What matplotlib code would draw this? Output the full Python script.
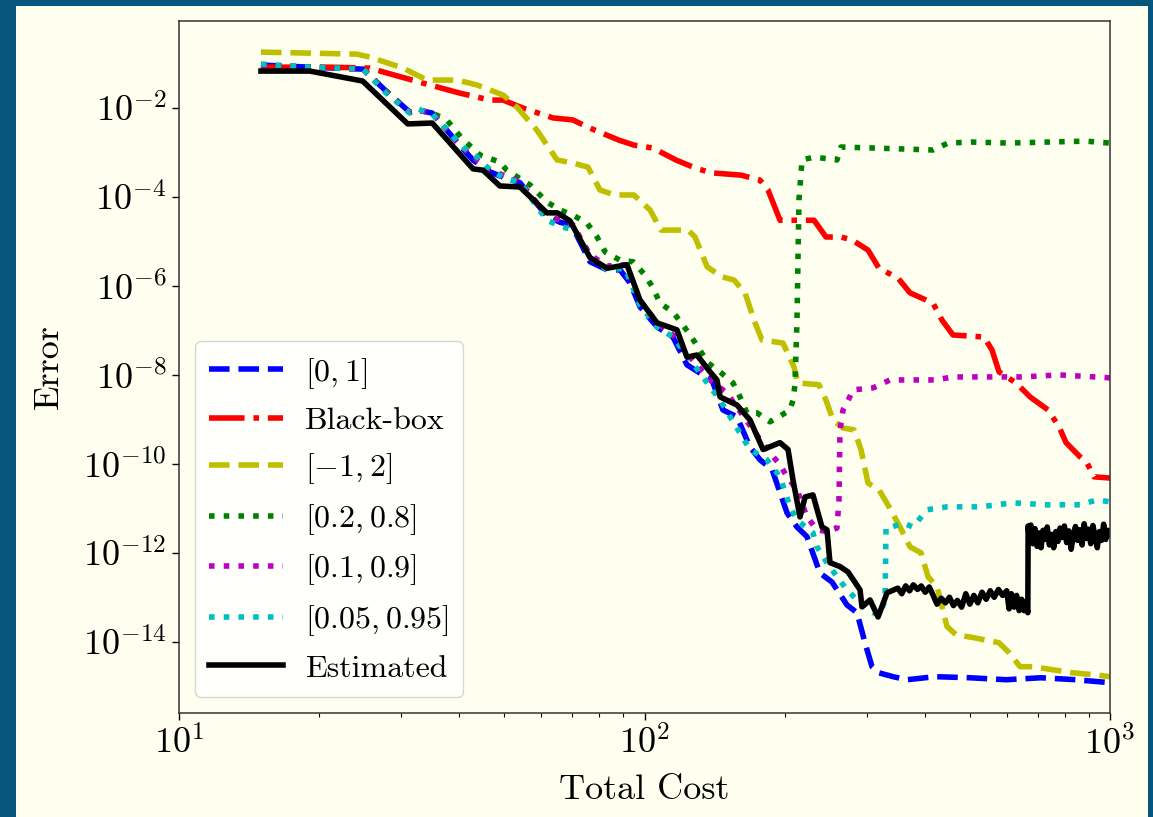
import numpy as np
import matplotlib
matplotlib.use("Agg")
import matplotlib.pyplot as plt
from matplotlib import ticker
from matplotlib.patches import Rectangle

# ---------------- data ----------------
x_unit = [15, 19.1, 24.85, 27.7, 31.3, 32.6, 35.0, 39.2, 42.8, 46.6, 50.1, 54.0, 61.7, 65.9, 69.7,
          76.4, 83.1, 88.6, 93.1, 97.8, 106.4, 115.1, 123.4, 131.6, 139.6, 147.4, 158.0, 168.5,
          177.1, 187.9, 202.4, 212.6, 223.4, 238.2, 252.8, 272.3, 286.1, 297.6, 308.1, 319.0,
          341.8, 366.4, 420.9, 500.4, 598.0, 711.0, 845.3, 1000]
y_unit = [0.0925, 0.083, 0.075, 0.0254, 8.1e-3, 9.0e-3, 7.7e-3, 1.9e-3, 6.8e-4, 3.65e-4, 2.7e-4,
          2.1e-4, 3.7e-5, 2.7e-5, 2.35e-5, 3.5e-6, 2.3e-6, 2.3e-6, 1.17e-6, 3.4e-7, 1.2e-7, 7.1e-8,
          1.68e-8, 1.1e-8, 7.7e-9, 1.63e-9, 1.14e-9, 2.4e-10, 1.23e-10, 7.5e-11, 7.9e-12, 3.8e-12,
          2.3e-12, 3.5e-13, 2.2e-13, 6.7e-14, 4.5e-14, 9.5e-15, 2.75e-15, 2.0e-15, 1.64e-15,
          1.4e-15, 1.64e-15, 1.55e-15, 1.4e-15, 1.55e-15, 1.4e-15, 1.2e-15]

x_bbox = [15, 21.1, 25.7, 28.0, 33.4, 40.1, 46.6, 49.7, 54.8, 63.6, 70.2, 75.6, 88.1, 94.9, 104.3,
          116.8, 128.4, 139.0, 161.2, 177.1, 184.2, 195.5, 214.7, 231.3, 245.4, 264.3, 279.2,
          302.1, 319.0, 350.4, 371.9, 416.7, 435.7, 459.9, 536.4, 558.0, 577.6, 628.3, 673.4,
          736.0, 777.2, 804.6, 862.2, 892.6, 924.0, 1000]
y_bbox = [0.083, 0.083, 0.079, 0.0612, 0.0365, 0.0217, 0.0151, 0.0151, 0.010, 6.0e-3, 5.4e-3,
          3.7e-3, 1.9e-3, 1.47e-3, 1.26e-3, 6.8e-4, 4.5e-4, 3.5e-4, 3.1e-4, 2.4e-4, 1.44e-4,
          3.0e-5, 3.0e-5, 3.0e-5, 1.26e-5, 1.26e-5, 1.08e-5, 6.4e-6, 2.5e-6, 1.5e-6, 7.0e-7,
          4.1e-7, 1.7e-7, 7.9e-8, 7.1e-8, 3.6e-8, 1.17e-8, 6.6e-9, 3.2e-9, 1.63e-9, 6.8e-10,
          3.0e-10, 1.44e-10, 1.05e-10, 5.1e-11, 4.8e-11]

x_wide = [15, 24.1, 25.7, 30.3, 34.1, 39.6, 43.7, 49.7, 53.2, 58.7, 64.9, 70.2, 75.6, 80.2, 86.4,
          94.9, 102.8, 108.5, 124.0, 128.4, 136.3, 146.7, 155.7, 164.4, 172.8, 178.8, 198.4,
          209.5, 213.6, 237.1, 245.4, 254.1, 267.0, 281.9, 291.8, 302.1, 319.0, 335.2, 353.9,
          371.9, 392.6, 406.5, 425.0, 446.6, 466.9, 510.5, 577.6, 606.9, 640.8, 683.4, 754.5,
          832.8, 919.5, 1000]
y_wide = [0.181, 0.163, 0.140, 0.079, 0.0426, 0.0426, 0.0329, 0.0196, 0.0105, 3.2e-3, 6.8e-4,
          5.8e-4, 4.7e-4, 1.44e-4, 1.11e-4, 1.11e-4, 5.1e-5, 1.8e-5, 1.8e-5, 1.26e-5, 2.7e-6,
          1.6e-6, 1.36e-6, 7.0e-7, 1.48e-7, 6.1e-8, 5.2e-8, 1.5e-8, 6.6e-9, 6.0e-9, 2.7e-9,
          9.7e-10, 6.4e-10, 5.8e-10, 2.1e-10, 3.7e-11, 2.6e-11, 1.08e-11, 3.8e-12, 1.36e-12,
          1.0e-12, 2.9e-13, 1.73e-13, 2.2e-14, 1.44e-14, 1.23e-14, 9.5e-15, 5.7e-15, 2.75e-15,
          2.75e-15, 2.34e-15, 2.0e-15, 1.82e-15, 1.64e-15]

x_p2 = [15, 19.1, 24.85, 27.7, 31.3, 32.6, 35.0, 37.6, 40.5, 44.3, 48.9, 50.6, 56.8, 61.7, 65.9,
        70.2, 75.2, 79.1, 82.3, 88.6, 94.5, 100.2, 104.3, 108.0, 115.1, 120.9, 126.5, 136.9,
        145.3, 154.9, 160.4, 166.0, 174.5, 186.0, 192.6, 205.4, 208.4, 210.5, 212.6, 214.7,
        218.0, 231.3, 259.1, 264.3, 312.7, 416.7, 448.7, 502.8, 606.9, 732.4, 888.2, 1000]
y_p2 = [0.0925, 0.083, 0.075, 0.0254, 8.1e-3, 9.0e-3, 7.7e-3, 5.4e-3, 2.1e-3, 8.8e-4, 6.1e-4,
        4.0e-4, 1.86e-4, 7.7e-5, 5.1e-5, 3.9e-5, 2.6e-5, 1.26e-5, 5.8e-6, 3.8e-6, 3.5e-6,
        1.77e-6, 9.0e-7, 4.1e-7, 2.6e-7, 1.33e-7, 6.8e-8, 1.86e-8, 1.17e-8, 6.6e-9, 3.2e-9,
        1.4e-9, 1.4e-9, 8.8e-10, 1.08e-9, 1.63e-9, 2.7e-9, 6.0e-9, 1.7e-7, 8.6e-5, 6.8e-4,
        7.9e-4, 6.8e-4, 1.33e-3, 1.26e-3, 1.14e-3, 1.63e-3, 1.72e-3, 1.63e-3, 1.72e-3, 1.8e-3,
        1.63e-3]

x_p1 = [15, 19.1, 24.85, 27.7, 31.3, 32.6, 35.0, 40.1, 43.7, 46.6, 50.1, 54.0, 61.7, 65.9, 70.2,
        76.4, 83.1, 90.8, 97.8, 106.4, 115.1, 125.3, 138.3, 150.4, 171.1, 186.0, 195.5, 202.4,
        212.6, 223.4, 234.7, 246.6, 259.1, 261.7, 263.0, 267.0, 272.3, 280.5, 309.7, 336.8,
        420.9, 459.9, 547.1, 650.4, 777.2, 1000]
y_p1 = [0.0925, 0.083, 0.075, 0.0241, 8.1e-3, 9.0e-3, 7.7e-3, 1.47e-3, 6.8e-4, 4.0e-4, 3.0e-4,
        2.2e-4, 3.9e-5, 3.0e-5, 2.35e-5, 5.0e-6, 2.8e-6, 3.0e-6, 4.8e-7, 1.48e-7, 7.9e-8,
        2.5e-8, 7.7e-9, 3.9e-9, 5.8e-10, 1.77e-10, 9.5e-11, 5.1e-11, 2.6e-11, 6.4e-12, 3.3e-12,
        3.0e-12, 3.6e-12, 1.55e-11, 5.8e-10, 1.63e-9, 2.35e-9, 4.6e-9, 5.1e-9, 7.7e-9, 7.7e-9,
        9.0e-9, 9.0e-9, 9.0e-9, 1.0e-8, 8.6e-9]

x_p05 = [15, 19.1, 24.85, 27.7, 31.3, 32.6, 35.0, 40.7, 43.7, 46.6, 49.7, 54.0, 61.7, 66.8, 70.9,
         76.4, 83.1, 90.8, 97.8, 106.4, 115.1, 125.3, 138.3, 145.3, 168.5, 183.3, 195.5, 205.4,
         212.6, 230.1, 234.7, 246.6, 259.1, 272.3, 286.1, 300.6, 309.7, 320.6, 328.7, 330.3,
         340.1, 359.2, 377.4, 404.5, 446.6, 525.9, 619.0, 732.4, 862.2, 937.9, 1000]
y_p05 = [0.0975, 0.083, 0.075, 0.0229, 7.7e-3, 9.5e-3, 7.3e-3, 1.33e-3, 7.9e-4, 4.0e-4, 2.8e-4,
         2.1e-4, 3.0e-5, 2.1e-5, 1.8e-5, 4.3e-6, 2.3e-6, 2.5e-6, 3.7e-7, 1.2e-7, 7.1e-8, 2.2e-8,
         5.4e-9, 2.7e-9, 2.1e-10, 1.23e-10, 5.1e-11, 1.08e-11, 5.5e-12, 2.8e-12, 1.36e-12,
         6.0e-13, 2.9e-13, 1.47e-13, 8.7e-14, 5.2e-14, 4.5e-14, 4.1e-14, 8.7e-14, 3.8e-12,
         3.8e-12, 4.7e-12, 3.8e-12, 9.3e-12, 1.08e-11, 1.08e-11, 1.33e-11, 1.2e-11, 1.2e-11,
         1.55e-11, 1.4e-11]

x_est = [15, 19.1, 24.8, 31.0, 35.0, 42.8, 45.0, 48.9, 54.0, 61.7, 65.0, 69.2, 76.4, 83.1, 91.7,
         97.8, 106.4, 117.4, 123.4, 129.6, 138.3, 143.1, 145.3, 158.0, 168.5, 177.1, 179.8,
         195.5, 203.4, 208.4, 215.8, 221.3, 230.1, 240.6, 246.6, 250.3, 263.0, 273.7, 290.4,
         293.2, 305.1, 317.5, 331.9,
         350, 357, 364, 371, 378, 386, 393, 401, 409, 417, 425, 434, 443, 452, 461, 470, 480,
         490, 500, 510, 520, 531, 542, 553, 564, 576, 588, 600, 607, 614, 622, 630, 638, 646,
         654, 660, 666, 667,
         670, 676, 683, 690, 697, 704, 711, 718, 726, 733, 741, 749, 757, 765, 773, 781, 790,
         798, 807, 816, 825, 834, 843, 852, 862, 871, 880, 890, 899, 909, 919, 929, 939, 949,
         959, 969, 979, 990, 1000]
y_est = [0.0678, 0.0678, 0.0405, 4.4e-3, 4.6e-3, 4.3e-4, 4.0e-4, 1.77e-4, 1.68e-4, 4.4e-5,
         4.4e-5, 2.9e-5, 4.3e-6, 2.5e-6, 3.0e-6, 4.8e-7, 1.48e-7, 1.03e-7, 2.5e-8, 2.8e-8,
         1.17e-8, 7.7e-9, 3.2e-9, 2.1e-9, 9.7e-10, 3.0e-10, 2.1e-10, 3.0e-10, 2.1e-10, 4.4e-11,
         6.4e-12, 1.8e-11, 2.0e-11, 3.8e-12, 3.3e-12, 6.0e-13, 4.9e-13, 3.7e-13, 1.47e-13,
         6.1e-14, 8.7e-14, 3.6e-14, 1.26e-13,
         1.6e-13, 1.2e-13, 1.8e-13, 1.4e-13, 1.9e-13, 1.5e-13, 1.8e-13, 1.3e-13, 1.7e-13,
         1.1e-13, 7.0e-14, 9.5e-14, 7.5e-14, 1.0e-13, 6.5e-14, 8.5e-14, 6.0e-14, 1.2e-13,
         7.0e-14, 1.1e-13, 7.5e-14, 1.3e-13, 9.0e-14, 1.4e-13, 1.0e-13, 1.5e-13, 1.1e-13,
         1.4e-13, 5.5e-14, 1.2e-13, 6.0e-14, 1.1e-13, 5.0e-14, 9.0e-14, 5.0e-14, 8.0e-14,
         4.5e-14, 4.0e-12,
         2.5e-12, 4.2e-12, 1.6e-12, 3.5e-12, 1.4e-12, 2.8e-12, 1.3e-12, 3.2e-12, 2.0e-12,
         3.8e-12, 1.5e-12, 2.6e-12, 1.3e-12, 3.0e-12, 1.8e-12, 3.6e-12, 2.2e-12, 4.0e-12,
         1.7e-12, 3.1e-12, 1.2e-12, 2.4e-12, 3.9e-12, 1.9e-12, 3.3e-12, 1.5e-12, 4.5e-12,
         2.1e-12, 3.4e-12, 1.6e-12, 4.1e-12, 2.3e-12, 1.3e-12, 3.0e-12, 1.9e-12, 4.4e-12,
         2.0e-12, 3.2e-12, 2.6e-12]

labels = [r"$[0,1]$", "Black-box", r"$[-1,2]$", r"$[0.2,0.8]$", r"$[0.1,0.9]$",
          r"$[0.05,0.95]$", "Estimated"]

x_ticks = [1e1, 1e2, 1e3]
y_ticks = [1e-14, 1e-12, 1e-10, 1e-8, 1e-6, 1e-4, 1e-2]

# ---------------- style ----------------
plt.rcParams["mathtext.fontset"] = "cm"
plt.rcParams["font.family"] = "serif"
plt.rcParams["font.serif"] = ["cmr10", "DejaVu Serif"]
plt.rcParams["axes.formatter.use_mathtext"] = True

BG = "#07567e"
CREAM = "#fffff0"
W, H = 1153, 817

fig = plt.figure(figsize=(W / 100, H / 100), dpi=100, facecolor=BG)
fig.add_artist(Rectangle((16 / W, 0), (1148 - 16) / W, (H - 6) / H,
                         transform=fig.transFigure, facecolor=CREAM,
                         edgecolor="none", zorder=-5))

ax = fig.add_axes([179 / W, 1 - 713 / H, (1110 - 179) / W, (713 - 20.5) / H])
ax.set_facecolor(CREAM)

lw = 4
series = [
    (x_unit, y_unit, "b", "--"),
    (x_bbox, y_bbox, "r", "-."),
    (x_wide, y_wide, "y", "--"),
    (x_p2, y_p2, "g", ":"),
    (x_p1, y_p1, "m", ":"),
    (x_p05, y_p05, "c", ":"),
    (x_est, y_est, "k", "-"),
]
for (xs, ys, c, ls), lab in zip(series, labels):
    ax.plot(xs, ys, color=c, linestyle=ls, linewidth=lw, label=lab)

ax.set_xscale("log")
ax.set_yscale("log")
ax.set_xlim(10, 1000)
ax.set_ylim(2.5e-16, 0.93)

ax.xaxis.set_major_locator(ticker.FixedLocator(x_ticks))
ax.yaxis.set_major_locator(ticker.FixedLocator(y_ticks))
ax.yaxis.set_minor_locator(ticker.NullLocator())
ax.xaxis.set_minor_locator(ticker.LogLocator(base=10, subs=np.arange(2, 10)))
ax.xaxis.set_minor_formatter(ticker.NullFormatter())
fmt = ticker.FuncFormatter(lambda v, p: r"$10^{%d}$" % int(round(np.log10(v))))
ax.xaxis.set_major_formatter(fmt)
ax.yaxis.set_major_formatter(fmt)

ax.tick_params(which="major", labelsize=26, length=5, width=1, pad=4)
ax.tick_params(which="minor", length=3, width=0.8)
for s in ax.spines.values():
    s.set_linewidth(1.1)
    s.set_color("#333333")

ax.set_xlabel("Total Cost", fontsize=26, labelpad=10)
ax.set_ylabel("Error", fontsize=26, labelpad=13)

leg = ax.legend(loc="lower left", fontsize=23, handlelength=2.3, handletextpad=0.7,
                labelspacing=0.5, borderpad=0.45, framealpha=0.8)

fig.savefig("out.png", dpi=100, facecolor=BG)
